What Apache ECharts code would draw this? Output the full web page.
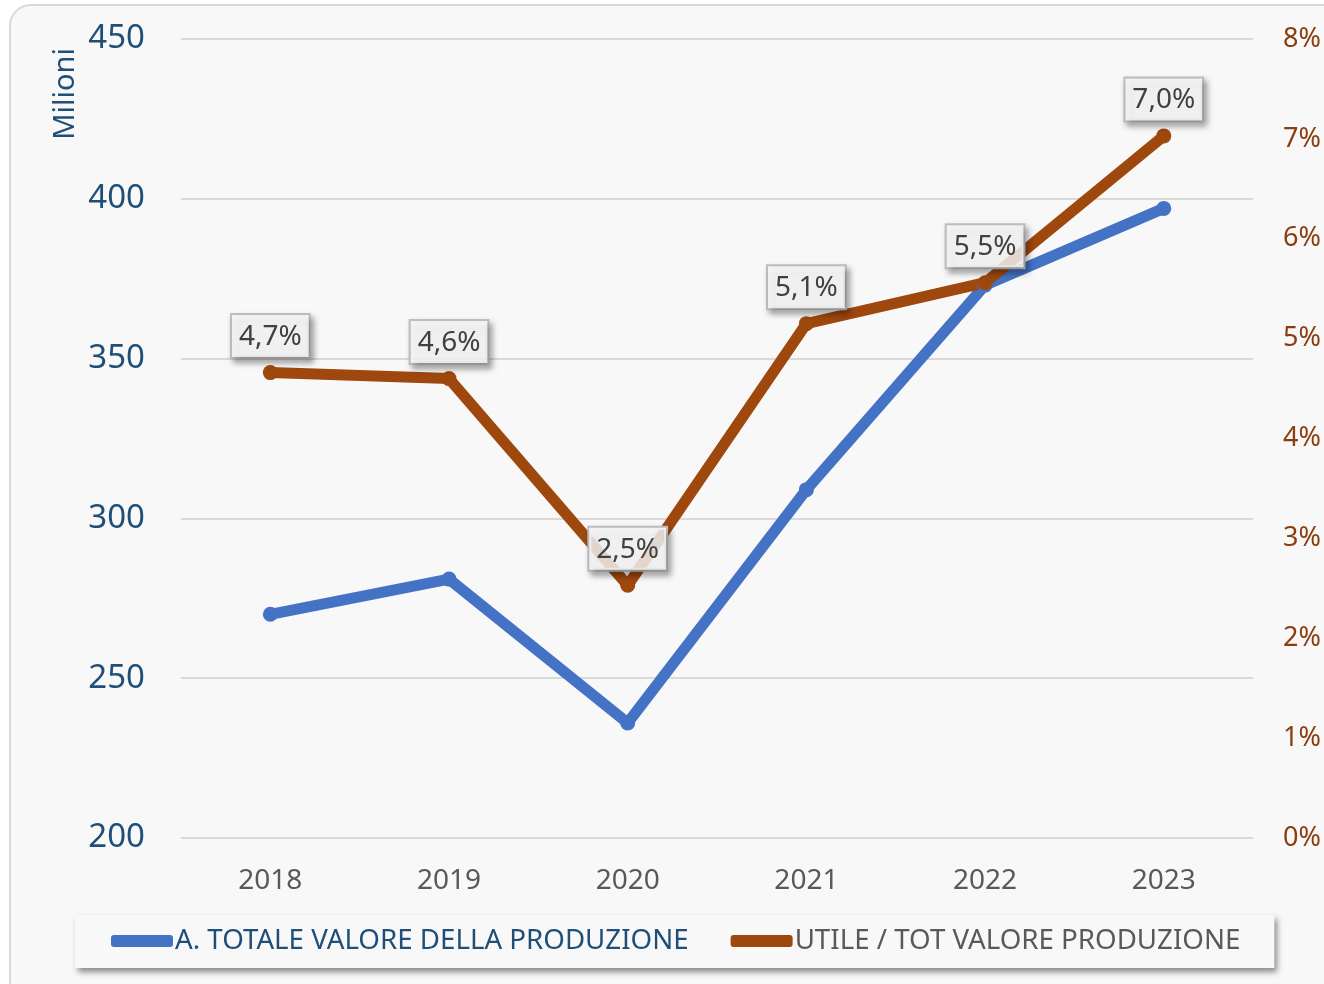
<!DOCTYPE html>
<html><head><meta charset="utf-8">
<script src="https://cdn.jsdelivr.net/npm/echarts@6/dist/echarts.min.js"></script>
<style>
html,body{margin:0;padding:0;width:1324px;height:984px;overflow:hidden;background:#ffffff;}
#frame{position:absolute;left:9px;top:4px;width:1340px;height:1010px;border:2px solid #d9d9d9;border-radius:22px;background:#f8f8f8;}
#chart{position:absolute;left:0;top:0;width:1324px;height:984px;}
</style></head>
<body>
<div id="frame"></div>
<div id="chart"></div>
<script>
const categories = ['2018','2019','2020','2021','2022','2023'];
const valoreProduzione = [270, 281, 236, 309, 373, 397];
const utileRatio = [4.66, 4.60, 2.53, 5.15, 5.56, 7.03];
const utileLabels = ['4,7%','4,6%','2,5%','5,1%','5,5%','7,0%'];
const leftTicks = [200, 250, 300, 350, 400, 450];
const rightTicks = ['0%','1%','2%','3%','4%','5%','6%','7%','8%'];
const seriesNames = ['A. TOTALE VALORE DELLA PRODUZIONE', 'UTILE / TOT VALORE PRODUZIONE'];

const FONT = '"Noto Sans", sans-serif';
const chart = echarts.init(document.getElementById('chart'), null, {renderer:'canvas'});
chart.setOption({
  backgroundColor: 'transparent',
  animation: false,
  textStyle: {fontFamily: FONT},
  grid: {left: 181, right: 70, top: 39, bottom: 146, containLabel: false},
  graphic: [{
    type: 'text', left: 51, top: 48, rotation: Math.PI/2,
    style: {text: 'Milioni', fill: '#1F4E79', font: '29px ' + FONT}
  }],
  legend: {
    left: 75, top: 915,
    padding: [12, 34, 13, 36],
    itemGap: 42,
    icon: 'roundRect',
    itemWidth: 62, itemHeight: 12,
    backgroundColor: '#f8f8f8',
    shadowColor: 'rgba(0,0,0,0.45)', shadowBlur: 6, shadowOffsetX: 3, shadowOffsetY: 4,
    data: [
      {name: seriesNames[0], textStyle: {color: '#1F4E79'}},
      {name: seriesNames[1], textStyle: {color: '#595959'}}
    ],
    textStyle: {fontSize: 27.7, fontFamily: FONT, padding: [0,0,0,-3]}
  },
  xAxis: {
    type: 'category', data: categories, boundaryGap: true,
    axisLine: {show: false}, axisTick: {show: false},
    axisLabel: {color: '#595959', fontSize: 28, margin: 29, fontFamily: FONT}
  },
  yAxis: [{
    type: 'value', min: leftTicks[0], max: leftTicks[leftTicks.length-1], interval: 50,
    axisLine: {show: false}, axisTick: {show: false},
    splitLine: {lineStyle: {color: '#d9d9d9', width: 2}},
    axisLabel: {color: '#1F4E79', fontSize: 33, margin: 36, fontFamily: FONT}
  }, {
    type: 'value', min: 0, max: 8, interval: 1, position: 'right',
    axisLine: {show: false}, axisTick: {show: false}, splitLine: {show: false},
    axisLabel: {color: '#8B3D0F', fontSize: 27, margin: 30, fontFamily: FONT,
      formatter: v => rightTicks[Math.round(v)]}
  }],
  series: [{
    name: seriesNames[0], type: 'line', yAxisIndex: 0, data: valoreProduzione,
    symbol: 'circle', symbolSize: 15,
    lineStyle: {color: '#4472C4', width: 11, cap: 'round', join: 'round'},
    itemStyle: {color: '#4472C4'}
  }, {
    name: seriesNames[1], type: 'line', yAxisIndex: 1, data: utileRatio,
    symbol: 'circle', symbolSize: 15,
    lineStyle: {color: '#9E480E', width: 11, cap: 'round', join: 'round'},
    itemStyle: {color: '#9E480E'},
    label: {
      show: true, position: 'top', distance: 8,
      formatter: p => utileLabels[p.dataIndex],
      color: '#404040', fontSize: 28, fontFamily: FONT,
      backgroundColor: 'rgba(255,255,255,0.8)',
      borderColor: '#bfbfbf', borderWidth: 2,
      padding: [8, 7, 6, 7],
      shadowColor: 'rgba(0,0,0,0.35)', shadowBlur: 6, shadowOffsetX: 3, shadowOffsetY: 4
    }
  }]
});
</script>
</body></html>
